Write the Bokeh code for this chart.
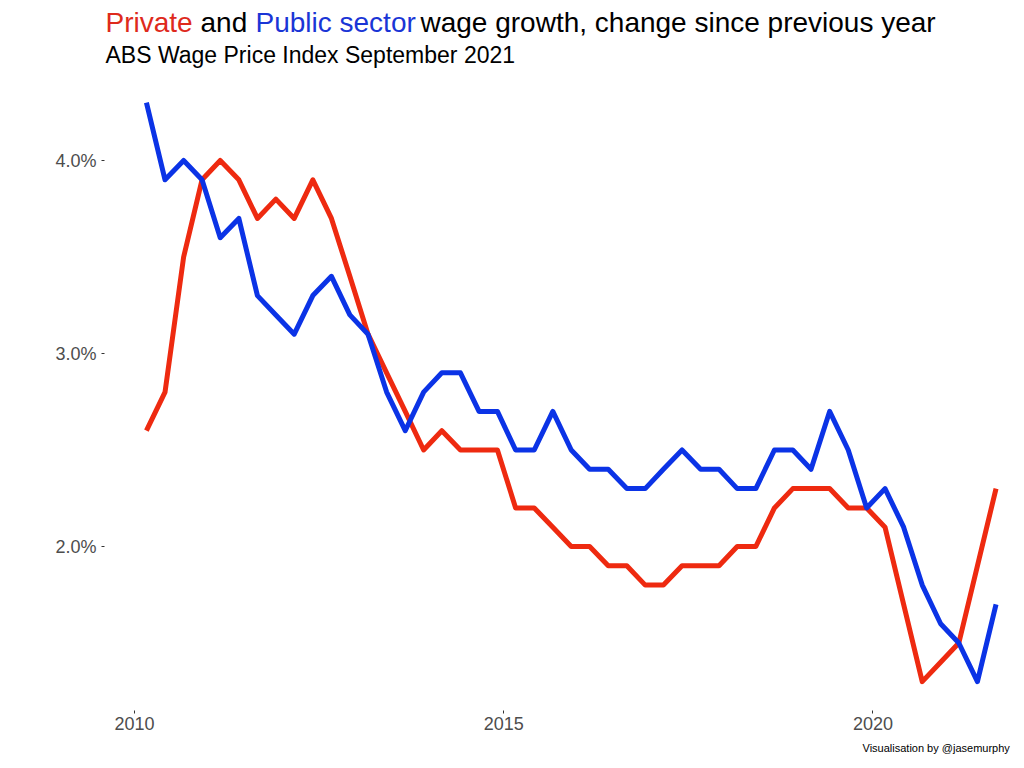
import pandas as pd
from bokeh.plotting import figure
from bokeh.layouts import column
from bokeh.models import (ColumnDataSource, Range1d, FixedTicker, PrintfTickFormatter,
                          DatetimeTickFormatter)
from bokeh.core.properties import value
from bokeh.embed import file_html
from bokeh.resources import INLINE

# ---------------- data ----------------
quarter_start = "2010-03-01"
quarter_end = "2021-09-01"
quarters = pd.date_range(quarter_start, quarter_end, freq="3MS")

private_sector = [2.6, 2.8, 3.5, 3.9, 4.0, 3.9, 3.7, 3.8, 3.7, 3.9,
                  3.7, 3.4, 3.1, 2.9, 2.7, 2.5, 2.6, 2.5, 2.5, 2.5,
                  2.2, 2.2, 2.1, 2.0, 2.0, 1.9, 1.9, 1.8, 1.8, 1.9,
                  1.9, 1.9, 2.0, 2.0, 2.2, 2.3, 2.3, 2.3, 2.2, 2.2,
                  2.1, 1.7, 1.3, 1.4, 1.5, 1.9, 2.3]
public_sector = [4.3, 3.9, 4.0, 3.9, 3.6, 3.7, 3.3, 3.2, 3.1, 3.3,
                 3.4, 3.2, 3.1, 2.8, 2.6, 2.8, 2.9, 2.9, 2.7, 2.7,
                 2.5, 2.5, 2.7, 2.5, 2.4, 2.4, 2.3, 2.3, 2.4, 2.5,
                 2.4, 2.4, 2.3, 2.3, 2.5, 2.5, 2.4, 2.7, 2.5, 2.2,
                 2.3, 2.1, 1.8, 1.6, 1.5, 1.3, 1.7]
x_tick_years = [2010, 2015, 2020]
y_ticks = [2.0, 3.0, 4.0]

title_parts = ["Private", "and", "Public sector", "wage growth, change since previous year"]
subtitle = "ABS Wage Price Index September 2021"
caption = "Visualisation by @jasemurphy"

RED = "#EE2A10"
BLUE = "#0B33E6"
TITLE_RED = "#DE2A1C"
TITLE_BLUE = "#1A35D6"
FONT = "Liberation Sans"
W = 1016
LEFT = 104
FRAME_W = W - LEFT


def text_panel(height):
    # frames of the column are aligned with the main chart's frame (left edge at LEFT)
    f = figure(width=W, height=height, x_range=Range1d(0, FRAME_W), y_range=Range1d(0, height),
               output_backend="svg", toolbar_location=None,
               x_axis_location=None, y_axis_location=None,
               min_border_left=LEFT, min_border_right=0, min_border_top=0, min_border_bottom=0)
    f.outline_line_color = None
    f.xgrid.visible = False
    f.ygrid.visible = False
    f.border_fill_color = "white"
    return f


# ---------------- header ----------------
head = text_panel(73)
head_src = ColumnDataSource(dict(text=title_parts, x=[1, 96, 151, 316],
                                 color=[TITLE_RED, "black", TITLE_BLUE, "black"]))
head.text(x="x", y=51, text="text", source=head_src, text_color="color",
          text_font=value(FONT), text_font_size=value("28px"), text_baseline="alphabetic")
head.text(x=[1], y=[19], text=[subtitle], text_color="black",
          text_font=value(FONT), text_font_size=value("23px"), text_baseline="alphabetic")

# ---------------- main chart ----------------
src = ColumnDataSource(dict(date=quarters, private=private_sector, public=public_sector))

year_ms = 365.25 * 86400000
t2010 = pd.Timestamp("2010-01-01").value / 1e6
px_per_year = 73.85
x_start = t2010 - (30 / px_per_year) * year_ms
x_end = t2010 + ((FRAME_W - 30) / px_per_year) * year_ms

p = figure(width=W, height=667, x_axis_type="datetime",
           x_range=Range1d(x_start, x_end), y_range=Range1d(1.1503, 4.4508),
           output_backend="svg", toolbar_location=None,
           min_border_left=LEFT, min_border_right=0, min_border_top=0, min_border_bottom=30)
p.outline_line_color = None
p.background_fill_color = "white"
p.border_fill_color = "white"
p.xgrid.visible = False
p.ygrid.visible = False

p.line("date", "private", source=src, color=RED, line_width=5, line_join="round")
p.line("date", "public", source=src, color=BLUE, line_width=5, line_join="round")

tick_ms = [pd.Timestamp(f"{y}-01-01").value / 1e6 for y in x_tick_years]
p.xaxis.ticker = FixedTicker(ticks=tick_ms)
p.xaxis.formatter = DatetimeTickFormatter(years="%Y", months="%Y", days="%Y")
p.yaxis.ticker = FixedTicker(ticks=y_ticks)
p.yaxis.formatter = PrintfTickFormatter(format="%.1f%%")
for ax in (p.xaxis, p.yaxis):
    ax.axis_line_color = None
    ax.major_tick_in = 0
    ax.major_tick_out = 3
    ax.major_tick_line_color = "#333333"
    ax.major_tick_line_width = 1
    ax.minor_tick_line_color = None
    ax.major_label_text_font = FONT
    ax.major_label_text_font_size = "18px"
    ax.major_label_text_color = "#4D4D4D"
p.xaxis.major_label_standoff = 3
p.yaxis.major_label_standoff = 5

# ---------------- footer ----------------
foot = text_panel(20)
foot.text(x=[758], y=[12.5], text=[caption], text_color="black",
          text_font=value(FONT), text_font_size=value("11px"), text_baseline="alphabetic")

layout = column(head, p, foot, spacing=0)
open("out.html", "w").write(file_html(layout, INLINE))
